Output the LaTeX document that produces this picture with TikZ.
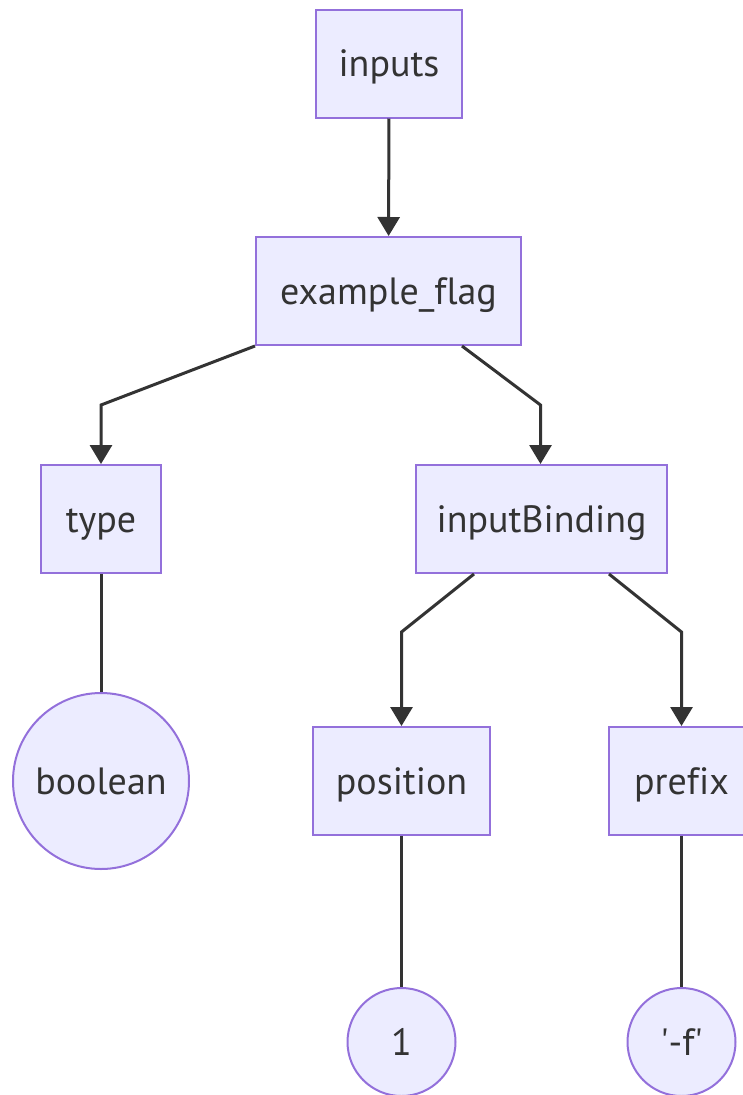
\documentclass[tikz,border=0pt]{standalone}
\usepackage{fontspec}
\setmainfont{PT Sans}[Ligatures={NoCommon}]
\usetikzlibrary{arrows.meta}
\definecolor{nodefill}{HTML}{ECECFF}
\definecolor{nodeline}{HTML}{9370DB}
\definecolor{edgeline}{HTML}{333333}
\tikzset{
	fieldbox/.style={draw=nodeline, fill=nodefill, line width=2pt, inner sep=0pt,
		minimum width=#1, minimum height=108pt, text=edgeline,
		font=\fontsize{38}{44}\selectfont, text height=34pt, text depth=8pt},
	valuenode/.style={circle, draw=nodeline, fill=nodefill, line width=2pt, inner sep=0pt,
		minimum size=#1, text=edgeline,
		font=\fontsize{38}{44}\selectfont, text height=34pt, text depth=8pt},
	link/.style={draw=edgeline, line width=3pt},
	flow/.style={link, -{Triangle[width=22pt,length=19pt]}}
}

\begin{document}
\begin{tikzpicture}[x=1pt,y=-1pt]
	\useasboundingbox (0,0) rectangle (743,1095);
	% boxes
	\node[fieldbox=146pt] (inputs) at (389,63.5) {inputs};
	\node[fieldbox=265pt] (flag) at (388.5,291) {example\_flag};
	\node[fieldbox=120pt] (type) at (101,519) {type};
	\node[fieldbox=251pt] (binding) at (541.5,519) {inputBinding};
	\node[fieldbox=177pt] (position) at (401.5,781) {position};
	\node[fieldbox=145pt] (prefix) at (681.5,781) {prefix};
	% values
	\node[valuenode=176pt] (boolean) at (101,781) {boolean};
	\node[valuenode=108pt] (one) at (401.5,1042) {1};
	\node[valuenode=108pt] (flagval) at (681.5,1042) {\textquotesingle-f\textquotesingle};
	% bends
	\coordinate (b1) at (101,405);
	\coordinate (b2) at (540.5,405);
	\coordinate (b3) at (401.5,632);
	\coordinate (b4) at (681.5,632);
	% edges
	\draw[flow] (inputs) -- (flag);
	\draw[flow] (flag.south west) -- (b1) -- (b1 |- type.north);
	\draw[flow] ([xshift=73.5pt]flag.south) -- (b2) -- (b2 |- binding.north);
	\draw[flow] ([xshift=-67.5pt]binding.south) -- (b3) -- (position.north);
	\draw[flow] ([xshift=67.5pt]binding.south) -- (b4) -- (prefix.north);
	\draw[link] (type) -- (boolean);
	\draw[link] (position) -- (one);
	\draw[link] (prefix) -- (flagval);
\end{tikzpicture}
\end{document}
